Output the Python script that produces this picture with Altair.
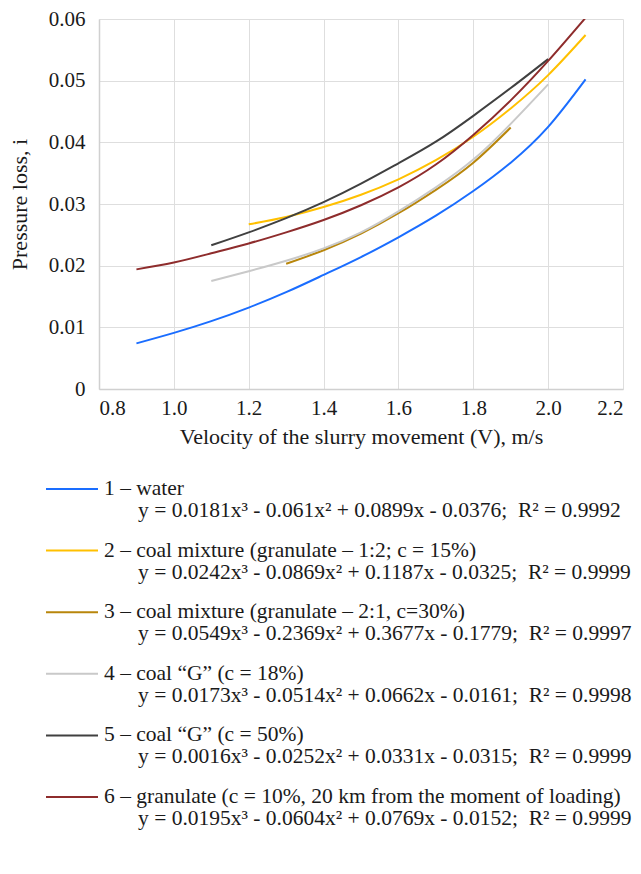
import altair as alt
import pandas as pd

FONT = "Liberation Serif"

series_names = ["1", "2", "3", "4", "5", "6"]
series_colors = ["#1a6dff", "#ffc000", "#b8860b", "#c9c9c9", "#404040", "#8e2c2c"]

v_water = [0.9, 1.0, 1.1, 1.2, 1.3, 1.4, 1.5, 1.6, 1.7, 1.8, 1.9, 2.0, 2.1]
i_water = [0.0074, 0.0091, 0.0110, 0.0132, 0.0157, 0.0185, 0.0214, 0.0246, 0.0281, 0.0321, 0.0367, 0.0425, 0.0502]

v_coal12 = [1.2, 1.3, 1.4, 1.5, 1.6, 1.7, 1.8, 1.9, 2.0, 2.1]
i_coal12 = [0.0267, 0.0279, 0.0295, 0.0315, 0.0340, 0.0371, 0.0409, 0.0455, 0.0509, 0.0574]

v_coal21 = [1.3, 1.4, 1.5, 1.6, 1.7, 1.8, 1.9]
i_coal21 = [0.0203, 0.0225, 0.0252, 0.0285, 0.0323, 0.0367, 0.0424]

v_g18 = [1.1, 1.2, 1.3, 1.4, 1.5, 1.6, 1.7, 1.8, 1.9, 2.0]
i_g18 = [0.0175, 0.0191, 0.0208, 0.0228, 0.0254, 0.0288, 0.0327, 0.0372, 0.0430, 0.0494]

v_g50 = [1.1, 1.2, 1.3, 1.4, 1.5, 1.6, 1.7, 1.8, 1.9, 2.0]
i_g50 = [0.0233, 0.0254, 0.0277, 0.0303, 0.0333, 0.0366, 0.0401, 0.0443, 0.0488, 0.0535]

v_gran = [0.9, 1.0, 1.1, 1.2, 1.3, 1.4, 1.5, 1.6, 1.7, 1.8, 1.9, 2.0, 2.1]
i_gran = [0.0194, 0.0205, 0.0220, 0.0236, 0.0254, 0.0274, 0.0298, 0.0327, 0.0364, 0.0412, 0.0468, 0.0532, 0.0602]

legend_line1 = [
    "1 – water",
    "2 – coal mixture (granulate – 1:2; c = 15%)",
    "3 – coal mixture (granulate – 2:1, c=30%)",
    "4 – coal “G” (c = 18%)",
    "5 – coal “G” (c = 50%)",
    "6 – granulate (c = 10%, 20 km from the moment of loading)",
]
legend_line2 = [
    "y = 0.0181x³ - 0.061x² + 0.0899x - 0.0376;\u00a0\u00a0R² = 0.9992",
    "y = 0.0242x³ - 0.0869x² + 0.1187x - 0.0325;\u00a0\u00a0R² = 0.9999",
    "y = 0.0549x³ - 0.2369x² + 0.3677x - 0.1779;\u00a0\u00a0R² = 0.9997",
    "y = 0.0173x³ - 0.0514x² + 0.0662x - 0.0161;\u00a0\u00a0R² = 0.9998",
    "y = 0.0016x³ - 0.0252x² + 0.0331x - 0.0315;\u00a0\u00a0R² = 0.9999",
    "y = 0.0195x³ - 0.0604x² + 0.0769x - 0.0152;\u00a0\u00a0R² = 0.9999",
]

x_ticks = [0.8, 1.0, 1.2, 1.4, 1.6, 1.8, 2.0, 2.2]
y_ticks = [0, 0.01, 0.02, 0.03, 0.04, 0.05, 0.06]

all_v = [v_water, v_coal12, v_coal21, v_g18, v_g50, v_gran]
all_i = [i_water, i_coal12, i_coal21, i_g18, i_g50, i_gran]

rows = []
for name, vs, is_ in zip(series_names, all_v, all_i):
    for v, i in zip(vs, is_):
        rows.append({"series": name, "V": v, "i": i})
df = pd.DataFrame(rows)

color_scale = alt.Scale(domain=series_names, range=series_colors)

main = alt.Chart(df).mark_line(strokeWidth=2, interpolate="natural", clip=True).encode(
    x=alt.X("V:Q", scale=alt.Scale(domain=[0.8, 2.2], nice=False),
            axis=alt.Axis(values=x_ticks, format=".1f", labelPadding=8, titlePadding=8,
                          title="Velocity of the slurry movement (V), m/s")),
    y=alt.Y("i:Q", scale=alt.Scale(domain=[0, 0.06], nice=False),
            axis=alt.Axis(values=y_ticks, labelPadding=14, titlePadding=17,
                          labelExpr="datum.value == 0 ? '0' : format(datum.value, '.2f')",
                          title="Pressure loss, i")),
    color=alt.Color("series:N", scale=color_scale, legend=None),
    detail="series:N",
).properties(width=524, height=370)

leg_df = pd.DataFrame({
    "row": list(range(6)),
    "series": series_names,
    "l1": legend_line1,
    "l2": legend_line2,
})
yleg = alt.Y("row:Q", scale=alt.Scale(domain=[0, 5], range=[0, 308]), axis=None)

leg_rule = alt.Chart(leg_df).mark_rule(strokeWidth=2).encode(
    x=alt.value(-53), x2=alt.value(-1), y=yleg,
    color=alt.Color("series:N", scale=color_scale, legend=None),
)
leg_t1 = alt.Chart(leg_df).mark_text(align="left", baseline="middle", font=FONT, fontSize=21.5,
                                     color="#1a1a1a").encode(
    x=alt.value(5), y=yleg, text="l1:N")
leg_t2 = alt.Chart(leg_df).mark_text(align="left", baseline="middle", font=FONT, fontSize=21.5,
                                     dy=22, color="#1a1a1a").encode(
    x=alt.value(39), y=yleg, text="l2:N")

legend = alt.layer(leg_rule, leg_t1, leg_t2).properties(width=524, height=330)

chart = alt.vconcat(
    main, legend, spacing=31,
    padding={"left": 0, "top": 0, "right": 0, "bottom": 0},
).configure_view(stroke=None).configure_axis(
    labelFont=FONT, titleFont=FONT, labelFontSize=21, titleFontSize=22,
    labelColor="#1a1a1a", titleColor="#1a1a1a", titleFontWeight="normal",
    gridColor="#dedede", domainColor="#d0d0d0", domainWidth=1.5, ticks=False,
).configure_text(font=FONT)

chart.save("out.html", embed_options={"renderer": "svg", "actions": False})
